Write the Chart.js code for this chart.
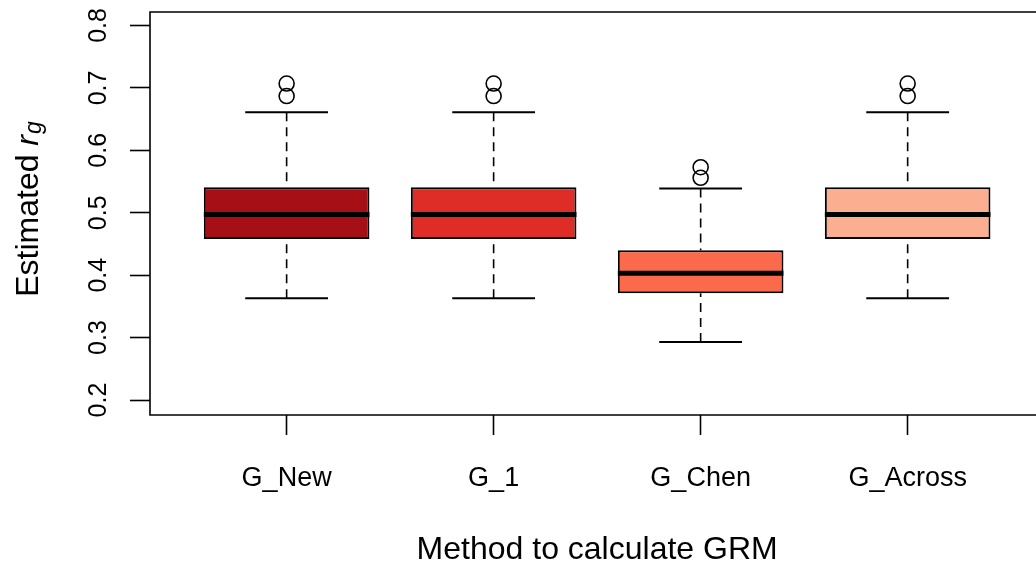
<!DOCTYPE html>
<html>
<head>
<meta charset="utf-8">
<script src="https://cdn.jsdelivr.net/npm/chart.js@4.4.0/dist/chart.umd.min.js"></script>
<style>
  html, body { margin: 0; padding: 0; background: #fff; overflow: hidden; }
  canvas { display: block; }
</style>
</head>
<body>
<canvas id="grmChart" width="1036" height="568"></canvas>
<script>
// Boxplot summary per GRM method
const methods = ['G_New', 'G_1', 'G_Chen', 'G_Across'];
const boxColors = ['#A50F15', '#DE2D26', '#FB6A4A', '#FCAE91'];
const lowerWhisker = [0.363, 0.363, 0.293, 0.363];
const lowerQuartile = [0.458, 0.458, 0.371, 0.458];
const medians = [0.497, 0.497, 0.403, 0.497];
const upperQuartile = [0.541, 0.541, 0.440, 0.541];
const upperWhisker = [0.661, 0.661, 0.539, 0.661];
const outliers = [[0.687, 0.707], [0.687, 0.707], [0.556, 0.573], [0.687, 0.707]];
const yTicks = [0.2, 0.3, 0.4, 0.5, 0.6, 0.7, 0.8];

const FONT = '"Liberation Sans", Arial, Helvetica, sans-serif';
Chart.defaults.font.family = FONT;
Chart.defaults.color = '#000';

const boxData = methods.map((m, i) => ({ x: i + 1, y: [lowerQuartile[i], upperQuartile[i]] }));
const outlierData = outliers.flatMap((vals, i) => vals.map(v => ({ x: i + 1, y: v })));

// whiskers, staples and the median bar, placed from the bar elements + y scale
const boxExtras = {
    id: 'boxExtras',
    afterDatasetsDraw(chart) {
        const ctx = chart.ctx;
        const y = chart.scales.y;
        const bars = chart.getDatasetMeta(0).data;
        ctx.save();
        ctx.strokeStyle = '#000';
        bars.forEach((bar, i) => {
            const cx = bar.x;
            const half = bar.width / 2;
            ctx.lineWidth = 1.6;
            ctx.setLineDash([9, 6]);
            ctx.beginPath();
            ctx.moveTo(cx, y.getPixelForValue(upperWhisker[i]));
            ctx.lineTo(cx, y.getPixelForValue(upperQuartile[i]));
            ctx.moveTo(cx, y.getPixelForValue(lowerWhisker[i]));
            ctx.lineTo(cx, y.getPixelForValue(lowerQuartile[i]));
            ctx.stroke();
            ctx.setLineDash([]);
            ctx.lineWidth = 2;
            ctx.beginPath();
            [upperWhisker[i], lowerWhisker[i]].forEach(v => {
                const py = y.getPixelForValue(v);
                ctx.moveTo(cx - half / 2, py);
                ctx.lineTo(cx + half / 2, py);
            });
            ctx.stroke();
            ctx.lineWidth = 5;
            ctx.beginPath();
            const pm = y.getPixelForValue(medians[i]);
            ctx.moveTo(cx - half, pm);
            ctx.lineTo(cx + half, pm);
            ctx.stroke();
        });
        ctx.restore();
    },
};

// R-style box around the plot region; its right side falls just past the picture
const plotFrame = {
    id: 'plotFrame',
    afterDraw(chart) {
        const { ctx, chartArea: a } = chart;
        ctx.save();
        ctx.strokeStyle = '#000';
        ctx.lineWidth = 1.6;
        ctx.beginPath();
        ctx.moveTo(a.right + 2, a.top);
        ctx.lineTo(a.left, a.top);
        ctx.lineTo(a.left, a.bottom);
        ctx.lineTo(a.right + 2, a.bottom);
        ctx.stroke();
        ctx.restore();
    },
};

// axis titles: "Estimated r_g" (italic r, subscript g) and the x title centred on the plot region
const axisTitles = {
    id: 'axisTitles',
    afterDraw(chart) {
        const ctx = chart.ctx;
        const xs = chart.scales.x;
        ctx.save();
        ctx.fillStyle = '#000';

        ctx.font = `32px ${FONT}`;
        ctx.textAlign = 'center';
        ctx.textBaseline = 'middle';
        ctx.fillText('Method to calculate GRM', xs.getPixelForValue(2.5), 550);

        const fMain = `32px ${FONT}`, fIt = `italic 32px ${FONT}`, fSub = `italic 23px ${FONT}`;
        ctx.textAlign = 'left';
        ctx.textBaseline = 'alphabetic';
        ctx.font = fMain; const w1 = ctx.measureText('Estimated ').width;
        ctx.font = fIt; const w2 = ctx.measureText('r').width;
        ctx.font = fSub; const w3 = ctx.measureText('g').width;
        const total = w1 + w2 + w3 + 1;
        ctx.translate(38, 209);
        ctx.rotate(-Math.PI / 2);
        let x = -total / 2;
        ctx.font = fMain; ctx.fillText('Estimated ', x, 0); x += w1;
        ctx.font = fIt; ctx.fillText('r', x, 0); x += w2 + 1;
        ctx.font = fSub; ctx.fillText('g', x, 3);
        ctx.restore();
    },
};

const tickGrid = { offset: false, drawOnChartArea: false, drawTicks: true, tickLength: 20, tickWidth: 1.6, tickColor: '#000' };

new Chart(document.getElementById('grmChart'), {
    type: 'bar',
    data: {
        datasets: [
            {
                type: 'bar',
                data: boxData,
                backgroundColor: boxColors,
                borderColor: '#000',
                borderWidth: 2,
                borderSkipped: false,
                barPercentage: 0.8,
                categoryPercentage: 1.0,
            },
            {
                type: 'scatter',
                data: outlierData,
                pointRadius: 7.5,
                pointBorderWidth: 1.6,
                pointBackgroundColor: 'rgba(0,0,0,0)',
                pointBorderColor: '#000',
            },
        ],
    },
    options: {
        responsive: false,
        animation: false,
        devicePixelRatio: 1,
        layout: { autoPadding: false, padding: { top: 12, left: 0, right: 0, bottom: 0 } },
        plugins: { legend: { display: false }, tooltip: { enabled: false } },
        scales: {
            x: {
                type: 'linear',
                min: 0.34,
                max: 4.62,
                offset: false,
                afterBuildTicks: s => { s.ticks = methods.map((m, i) => ({ value: i + 1 })); },
                afterFit: s => { s.height = 153; s.paddingLeft = 0; s.paddingRight = 0; },
                grid: tickGrid,
                border: { display: false },
                ticks: {
                    callback: (v, i) => methods[i],
                    color: '#000',
                    font: { size: 27 },
                    padding: 27,
                    maxRotation: 0,
                    autoSkip: false,
                },
            },
            y: {
                min: 0.176,
                max: 0.8216,
                afterBuildTicks: s => { s.ticks = yTicks.map(v => ({ value: v })); },
                afterFit: s => { s.width = 150; s.paddingTop = 0; s.paddingBottom = 0; },
                grid: tickGrid,
                border: { display: false },
                ticks: {
                    callback: v => v.toFixed(1),
                    color: '#000',
                    font: { size: 25 },
                    minRotation: 90,
                    maxRotation: 90,
                    crossAlign: 'center',
                    padding: 14,
                    autoSkip: false,
                },
            },
        },
    },
    plugins: [boxExtras, plotFrame, axisTitles],
});
</script>
</body>
</html>
